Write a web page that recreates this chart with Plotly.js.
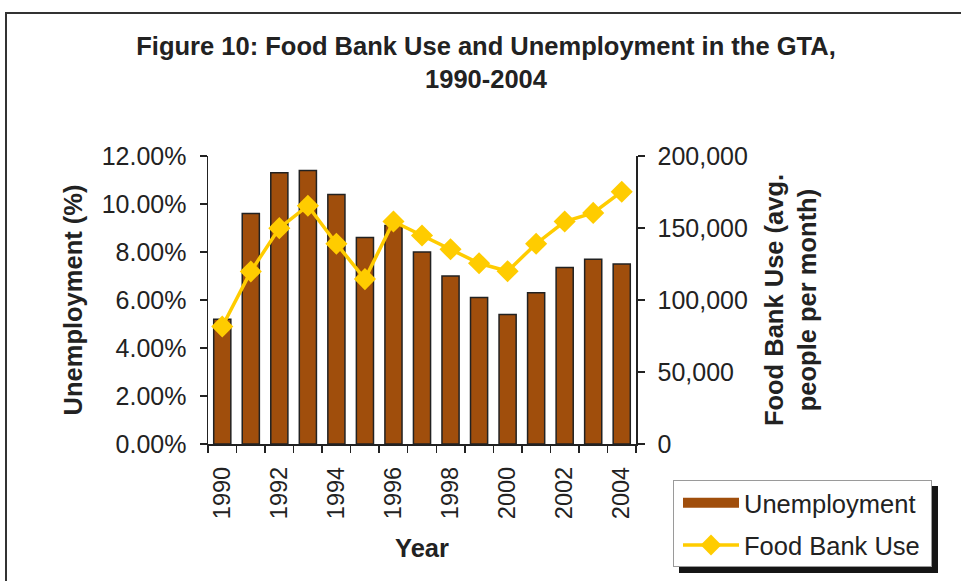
<!DOCTYPE html>
<html>
<head>
<meta charset="utf-8">
<script src="https://cdn.plot.ly/plotly-3.0.1.min.js"></script>
<style>
  html, body { margin: 0; padding: 0; background: #ffffff; }
  #wrap { position: relative; width: 961px; height: 581px; overflow: hidden; background: #fff; }
  #frame { position: absolute; left: 5px; top: 12px; width: 1000px; height: 700px;
           border-top: 2px solid #333; border-left: 2px solid #333; z-index: 0; }
  #legbox { position: absolute; left: 673px; top: 480px; width: 257px; height: 85px;
            background: #fff; border: 1px solid #9a9a9a; box-shadow: 6px 6px 0 #151515; z-index: 1; }
  #chart { position: absolute; left: 0; top: 0; width: 961px; height: 581px; z-index: 2; }
</style>
</head>
<body>
<div id="wrap">
  <div id="frame"></div>
  <div id="legbox"></div>
  <div id="chart"></div>
</div>
<script>
const years = [1990,1991,1992,1993,1994,1995,1996,1997,1998,1999,2000,2001,2002,2003,2004];
const unemployment = [5.2,9.6,11.3,11.4,10.4,8.6,9.1,8.0,7.0,6.1,5.4,6.3,7.35,7.7,7.5];
const foodBankUse = [81600,119800,149900,165500,139100,114500,154500,144800,135200,125500,120000,139100,154500,160500,175200];
const xTickVals = [1990,1992,1994,1996,1998,2000,2002,2004];
const xTickText = ["1990","1992","1994","1996","1998","2000","2002","2004"];

const FONT = "Liberation Sans, Arial, sans-serif";
const INK = "#222222";
const BROWN = "#A04E0C";
const GOLD = "#FFCC00";

const traces = [
  {
    type: "bar", x: years, y: unemployment, name: "Unemployment",
    marker: { color: BROWN, line: { color: "#222", width: 1.5 } },
    showlegend: false, hoverinfo: "x+y"
  },
  {
    type: "scatter", mode: "lines", x: [null], y: [null], name: "Unemployment",
    line: { color: BROWN, width: 15 }, legendgroup: "a", showlegend: true, hoverinfo: "skip"
  },
  {
    type: "scatter", mode: "lines+markers", x: years, y: foodBankUse, yaxis: "y2",
    name: "Food Bank Use", legendgroup: "b",
    line: { color: GOLD, width: 3.5 },
    marker: { symbol: "diamond", size: 17, color: GOLD }
  }
];

const layout = {
  width: 961, height: 581,
  margin: { l: 208, r: 325, t: 156, b: 135 },
  paper_bgcolor: "rgba(0,0,0,0)", plot_bgcolor: "rgba(0,0,0,0)",
  font: { family: FONT, color: INK, size: 25 },
  bargap: 0.4,
  showlegend: true,
  title: {
    text: "<b>Figure 10: Food Bank Use and Unemployment in the GTA,<br>1990-2004</b>",
    font: { family: FONT, size: 25.5, color: INK },
    x: 486/961, xanchor: "center", xref: "container",
    y: 1 - 55/581, yanchor: "top", yref: "container"
  },
  xaxis: {
    type: "linear", range: [1989.5, 2004.5],
    tickmode: "array", tickvals: xTickVals, ticktext: xTickText,
    tickangle: -90, ticks: "", ticklabelstandoff: 12,
    showline: true, linecolor: INK, linewidth: 1.5, showgrid: false, zeroline: false,
    tickfont: { size: 23.5, family: FONT, color: INK },
    minor: { tickmode: "linear", tick0: 1989.5, dtick: 1, ticks: "outside", ticklen: 7, tickcolor: INK, tickwidth: 1.5, showgrid: false },
    title: { text: "<b>Year</b>", font: { size: 25.5, family: FONT, color: INK }, standoff: 21 },
    fixedrange: true
  },
  yaxis: {
    range: [0, 12], tickmode: "linear", tick0: 0, dtick: 2,
    tickformat: ".2f", ticksuffix: "%",
    ticks: "outside", ticklen: 7, tickcolor: INK, tickwidth: 1.5, ticklabelstandoff: 8,
    showline: true, linecolor: INK, linewidth: 1.5, showgrid: false, zeroline: false,
    tickfont: { size: 25, family: FONT, color: INK },
    title: { text: "<b>Unemployment (%)</b>", font: { size: 25.5, family: FONT, color: INK }, standoff: 12 },
    fixedrange: true
  },
  yaxis2: {
    overlaying: "y", side: "right",
    range: [0, 200000], tickmode: "linear", tick0: 0, dtick: 50000,
    tickformat: ",d",
    ticks: "outside", ticklen: 7, tickcolor: INK, tickwidth: 1.5, ticklabelstandoff: 8,
    showline: true, linecolor: INK, linewidth: 1.5, showgrid: false, zeroline: false,
    tickfont: { size: 25, family: FONT, color: INK },
    title: { text: "<b>Food Bank Use (avg.<br>people per month)</b>", font: { size: 25.5, family: FONT, color: INK }, standoff: 18 },
    fixedrange: true
  },
  legend: {
    x: (678 - 208) / 428, xanchor: "left",
    y: (446 - 482) / 290, yanchor: "top",
    bgcolor: "rgba(0,0,0,0)", borderwidth: 0,
    font: { size: 25.5, family: FONT, color: INK },
    itemwidth: 56, traceorder: "grouped", tracegroupgap: 6,
    itemclick: false, itemdoubleclick: false
  }
};

Plotly.newPlot("chart", traces, layout, { displayModeBar: false, staticPlot: true });
</script>
</body>
</html>
